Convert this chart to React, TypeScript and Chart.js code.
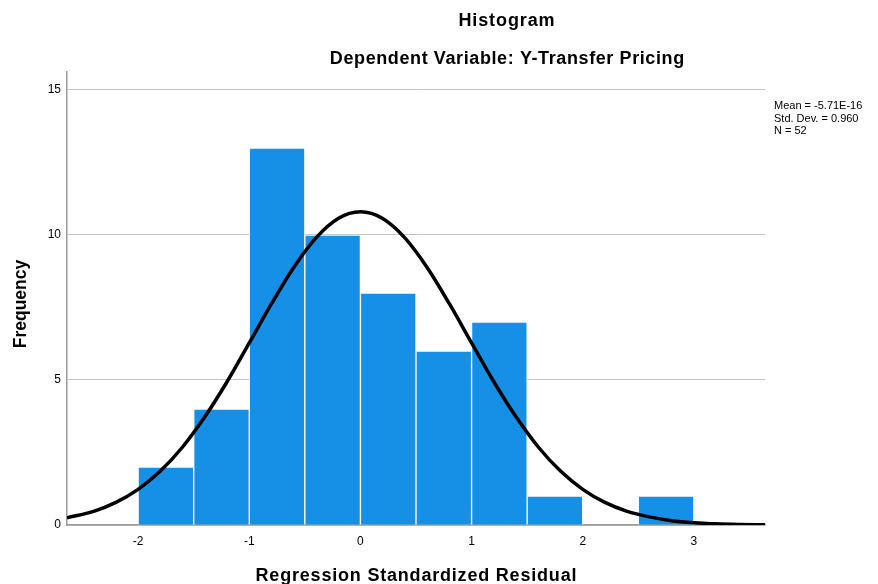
import React, { useEffect, useRef } from "react";
import { Chart, registerables } from "chart.js";

Chart.register(...registerables);

// Histogram bins (centers) and frequencies
const binCenters = [-1.75, -1.25, -0.75, -0.25, 0.25, 0.75, 1.25, 1.75, 2.25, 2.75];
const frequencies = [2, 4, 13, 10, 8, 6, 7, 1, 0, 1];

// Normal curve
const curveX = [-2.64, -2.4, -2.2, -2.0, -1.8, -1.6, -1.4, -1.2, -1.0, -0.8, -0.6, -0.4, -0.2, 0, 0.2, 0.4, 0.6, 0.8, 1.0, 1.2, 1.4, 1.6, 1.8, 2.0, 2.2, 2.4, 2.6, 2.8, 3.0, 3.2, 3.4, 3.64];
const curveY = [0.25, 0.47, 0.78, 1.23, 1.86, 2.69, 3.73, 4.94, 6.28, 7.63, 8.88, 9.9, 10.57, 10.8, 10.57, 9.9, 8.88, 7.63, 6.28, 4.94, 3.73, 2.69, 1.86, 1.23, 0.78, 0.47, 0.28, 0.15, 0.08, 0.04, 0.02, 0.01];

const title = "Histogram";
const subtitle = "Dependent Variable: Y-Transfer Pricing";
const statsLines = ["Mean = -5.71E-16", "Std. Dev. = 0.960", "N = 52"];
const xTitle = "Regression Standardized Residual";
const yTitle = "Frequency";

const FONT = '"Liberation Sans", Arial, sans-serif';

function spacedText(ctx: any, text: string, cx: number, y: number, spacing: number) {
  ctx.textAlign = "left";
  let w = 0;
  if ("letterSpacing" in ctx) {
    ctx.letterSpacing = spacing + "px";
    w = ctx.measureText(text).width - spacing;
    ctx.fillText(text, cx - w / 2, y);
    ctx.letterSpacing = "0px";
  } else {
    w = ctx.measureText(text).width;
    ctx.fillText(text, cx - w / 2, y);
  }
}

const textPlugin = {
  id: "textPlugin",
  afterDraw(chart: any) {
    const ctx = chart.ctx as any;
    const area = chart.chartArea;
    ctx.save();
    ctx.fillStyle = "#000";
    ctx.textBaseline = "alphabetic";
    ctx.font = `bold 18px ${FONT}`;
    spacedText(ctx, title, 506.5, 26, 0.9);
    spacedText(ctx, subtitle, 507, 64, 0.6);
    spacedText(ctx, xTitle, (area.left + area.right) / 2, 581, 0.8);
    // y title
    ctx.save();
    ctx.translate(26, (area.top + area.bottom) / 2 + 5.5);
    ctx.rotate(-Math.PI / 2);
    ctx.textAlign = "center";
    ctx.font = `bold 17.5px ${FONT}`;
    ctx.fillText(yTitle, 0, 0);
    ctx.restore();
    // stats
    ctx.font = `11px ${FONT}`;
    ctx.textAlign = "left";
    statsLines.forEach((s, i) => {
      ctx.fillText(s, 774, 109 + i * 12.5);
    });
    ctx.restore();
  },
};

export default function App() {
  const ref = useRef<HTMLCanvasElement | null>(null);
  useEffect(() => {
    if (!ref.current) return;
    const chart = new Chart(ref.current, {
      type: "bar",
      data: {
        datasets: [
          {
            type: "line",
            label: "Normal",
            data: curveX.map((x, i) => ({ x, y: curveY[i] })),
            borderColor: "#000",
            borderWidth: 3.5,
            pointRadius: 0,
            tension: 0.4,
            cubicInterpolationMode: "monotone",
            fill: false,
            order: 0,
          } as any,
          {
            type: "bar",
            label: "Frequency",
            data: binCenters.map((x, i) => ({ x, y: frequencies[i] })),
            backgroundColor: "#1590e6",
            borderColor: "#ffffff",
            borderWidth: 1,
            borderSkipped: "bottom",
            barPercentage: 1,
            categoryPercentage: 1,
            order: 1,
          } as any,
        ],
      },
      options: {
        responsive: false,
        animation: false,
        layout: { padding: { left: 0, top: 72, right: 113, bottom: 0 } },
        plugins: {
          legend: { display: false },
          tooltip: { enabled: false },
          title: { display: false },
        },
        scales: {
          x: {
            type: "linear",
            min: -2.64,
            max: 3.64,
            offset: false,
            grid: { display: false, drawTicks: false, offset: false },
            border: { display: true, color: "#9a9a9a", width: 1.5 },
            ticks: {
              stepSize: 1,
              includeBounds: false,
              padding: 9,
              color: "#000",
              font: { family: FONT, size: 12 },
            },
            afterFit: (s: any) => {
              s.height = 59;
            },
          } as any,
          y: {
            type: "linear",
            min: 0,
            max: 15.62,
            grid: { display: true, color: "#c4c4c4", lineWidth: 1, drawTicks: false },
            border: { display: true, color: "#9a9a9a", width: 1.5 },
            ticks: {
              stepSize: 5,
              includeBounds: false,
              padding: 6,
              color: "#000",
              font: { family: FONT, size: 12 },
            },
            afterFit: (s: any) => {
              s.width = 67;
            },
          } as any,
        },
      },
      plugins: [textPlugin],
    });
    return () => chart.destroy();
  }, []);
  return (
    <div style={{ position: "absolute", left: 0, top: 0, width: 878, height: 584, background: "#fff" }}>
      <canvas ref={ref} width={878} height={584} style={{ width: 878, height: 584 }} />
    </div>
  );
}
